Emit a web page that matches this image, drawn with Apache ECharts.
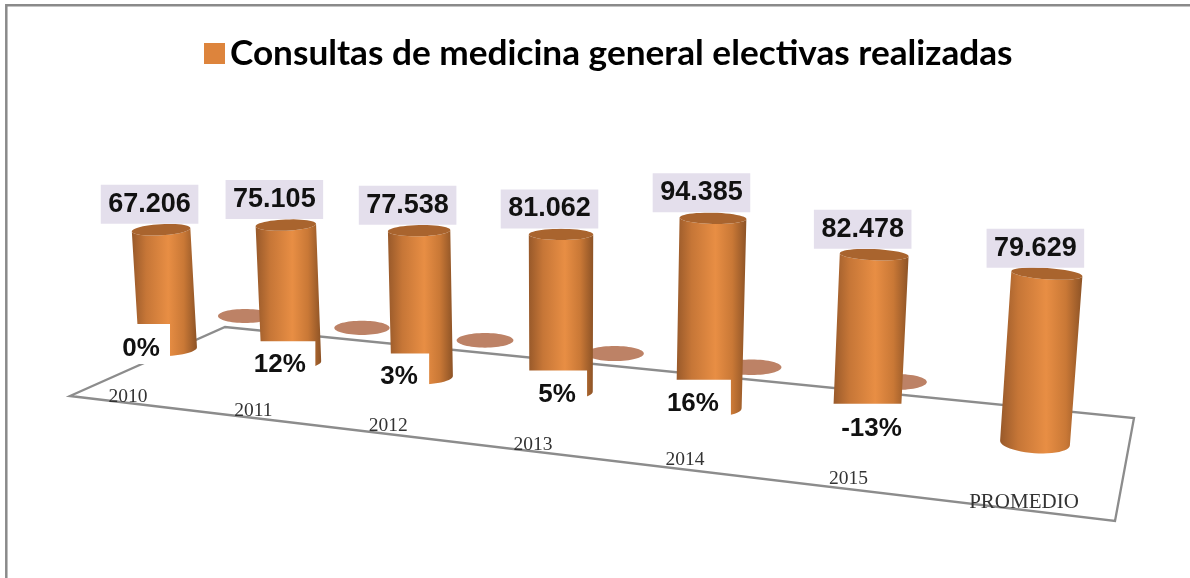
<!DOCTYPE html>
<html><head><meta charset="utf-8">
<style>html,body{margin:0;padding:0;background:#fff}#c{width:1190px;height:578px}</style>
<script src="https://cdn.jsdelivr.net/npm/echarts@6/dist/echarts.min.js"></script>
</head><body><div id="c"></div>
<script>
const seriesName = 'Consultas de medicina general electivas realizadas';
const categories = ['2010','2011','2012','2013','2014','2015','PROMEDIO'];
const consultas = [67206,75105,77538,81062,94385,82478,79629];
const variacion = [0,12,3,5,16,-13];

// --- layout only: perspective of the original 3D chart ---
const GRID = {left:200, top:100, width:600, height:300};
const Y_MAX = 100000;
const WALL = [[168,349],[1035,443],[1050,229],[157.6,170]];
const BACK_ROW = {x0:245,y0:316,a:647.9,d:22.35,g:-0.1488};
const GROWTH_BOX = [[-60,2,-25,15,-27,0],[-47,24,-21,19,-11.5,2],[-52,7,-23,19,-23,0],[-40,26,-21,19,-4,3],[-51,22,-28,12,-16,-4],[-40,36,-21,19,5,4]];
const CAT_OFFSET = [[-40,48],[-38,49],[-34,49],[-28,53],[-24,52],[-18,54],[-11,59]];
const SIDE = {type:'linear',x:0,y:0,x2:1,y2:0,colorStops:[
  {offset:0,color:'#98592a'},{offset:.22,color:'#c67637'},{offset:.56,color:'#e88e44'},{offset:.8,color:'#c97836'},{offset:1,color:'#8d5326'}]};

function homography(q){
  const [p00,p10,p11,p01]=q;
  const sx=p00[0]-p10[0]+p11[0]-p01[0], sy=p00[1]-p10[1]+p11[1]-p01[1];
  const dx1=p10[0]-p11[0], dy1=p10[1]-p11[1], dx2=p01[0]-p11[0], dy2=p01[1]-p11[1];
  const det=dx1*dy2-dx2*dy1;
  const g=(sx*dy2-dx2*sy)/det, h=(dx1*sy-sx*dy1)/det;
  const a=p10[0]-p00[0]+g*p10[0], b=p01[0]-p00[0]+h*p01[0];
  const d=p10[1]-p00[1]+g*p10[1], e=p01[1]-p00[1]+h*p01[1];
  return (u,t)=>{const w=g*u+h*t+1;return {x:(a*u+b*t+p00[0])/w,y:(d*u+e*t+p00[1])/w,w};};
}
const wall=homography(WALL);
const backRow=u=>{const r=BACK_ROW,w=1+r.g*u;return {x:(r.x0+r.a*u)/w,y:(r.y0+r.d*u)/w,w};};
const unit=p=>[(p[0]-GRID.left)/GRID.width,(GRID.top+GRID.height-p[1])/GRID.height];

function arc(c,ex,ey,nx,ny,rx,ry,from,to,n){
  const pts=[];
  for(let k=0;k<=n;k++){const a=from+(to-from)*k/n;
    pts.push([c.x+ex*rx*Math.cos(a)+nx*ry*Math.sin(a),c.y+ey*rx*Math.cos(a)+ny*ry*Math.sin(a)]);}
  return pts;
}
function fmt(v){return String(v).replace(/\B(?=(\d{3})+$)/g,'.');}

function renderCylinder(params,api){
  const i=api.value(0), v=api.value(1);
  const [ub]=unit(api.coord([i,0])), [ut,tt]=unit(api.coord([i,v]));
  const B=wall(ub,0), T=wall(ut,tt);
  const ang=Math.atan2(T.x-B.x,B.y-T.y), ex=Math.cos(ang), ey=Math.sin(ang), nx=-ey, ny=ex;
  const rt=28.8/T.w, rb=29/B.w, ryT=5.6, ryB=7/(B.w*B.w);
  const bottom=arc(B,ex,ey,nx,ny,rb,ryB,Math.PI,0,24);
  const topFront=arc(T,ex,ey,nx,ny,rt,ryT,0,Math.PI,24);
  const top=arc(T,ex,ey,nx,ny,rt,ryT,0,2*Math.PI,48);
  const children=[
    {type:'polygon',shape:{points:bottom.concat(topFront)},style:{fill:SIDE}},
    {type:'polygon',shape:{points:top},style:{fill:'#a9642e'}},
    {type:'text',style:{text:fmt(v),x:T.x-11.5,y:T.y-6,align:'center',verticalAlign:'bottom',
      fontFamily:'"Liberation Sans",Arial,sans-serif',fontWeight:'bold',fontSize:27,fill:'#111',
      backgroundColor:'#e4dfec',padding:[4,7.5,4,7.5],lineHeight:31}}
  ];
  return {type:'group',children};
}
function renderEllipse(params,api){
  const [u]=unit(api.coord([api.value(0),0]));
  const C=backRow(u);
  return {type:'ellipse',shape:{cx:C.x,cy:C.y,rx:27/C.w,ry:7/C.w},style:{fill:'#bd8266'}};
}
function renderNotes(params,api){
  const i=api.value(0), g=api.value(2);
  const [u]=unit(api.coord([i,0]));
  const B=wall(u,0), ch=[];
  if(i<variacion.length){
    const b=GROWTH_BOX[i];
    ch.push({type:'rect',shape:{x:B.x+b[0],y:B.y+b[2],width:b[1]-b[0],height:b[3]-b[2]},style:{fill:'#fff'}});
    ch.push({type:'text',style:{text:g+'%',x:B.x+b[4],y:B.y+b[5],align:'center',verticalAlign:'middle',
      fontFamily:'"Liberation Sans",Arial,sans-serif',fontWeight:'bold',fontSize:26,fill:'#111'}});
  }
  const o=CAT_OFFSET[i];
  ch.push({type:'text',style:{text:categories[i],x:B.x+o[0],y:B.y+o[1],align:'center',verticalAlign:'middle',
    fontFamily:'"Liberation Serif","Times New Roman",serif',fontSize:i===6?21:19.5,fill:'#333'}});
  return {type:'group',children:ch};
}

const chart=echarts.init(document.getElementById('c'),null,{renderer:'canvas'});
chart.setOption({
  animation:false,
  backgroundColor:'#fff',
  grid:GRID,
  xAxis:{type:'category',data:categories,boundaryGap:false,show:false},
  yAxis:{type:'value',min:0,max:Y_MAX,show:false},
  legend:{show:true,left:199,top:31,itemWidth:21,itemHeight:21,itemGap:10,icon:'rect',data:[seriesName],
    textStyle:{fontFamily:'Lato,Carlito,Calibri,sans-serif',fontWeight:'bold',fontSize:35.2,color:'#000'}},
  tooltip:{show:false},
  graphic:[
    {type:'polyline',z:0,silent:true,shape:{points:[[6.3,578],[6.3,5.3],[1190,5.3]]},style:{stroke:'#8a8a8a',lineWidth:2.5,fill:null}},
    {type:'polygon',z:0,silent:true,shape:{points:[[70,396],[225,327],[1134,418],[1115,521]]},style:{stroke:'#8c8c8c',lineWidth:2.3,fill:null}}
  ],
  series:[
    {type:'custom',name:'Variación',z:2,silent:true,renderItem:renderEllipse,encode:{x:0,y:1},
      data:variacion.map((g,i)=>[i,0,g])},
    {type:'custom',name:seriesName,z:3,silent:true,itemStyle:{color:'#dd843c'},renderItem:renderCylinder,encode:{x:0,y:1},
      data:consultas.map((v,i)=>[i,v])},
    {type:'custom',name:'Notas',z:4,silent:true,renderItem:renderNotes,encode:{x:0,y:1},
      data:categories.map((c,i)=>[i,0,i<variacion.length?variacion[i]:0])}
  ]
});
</script></body></html>
